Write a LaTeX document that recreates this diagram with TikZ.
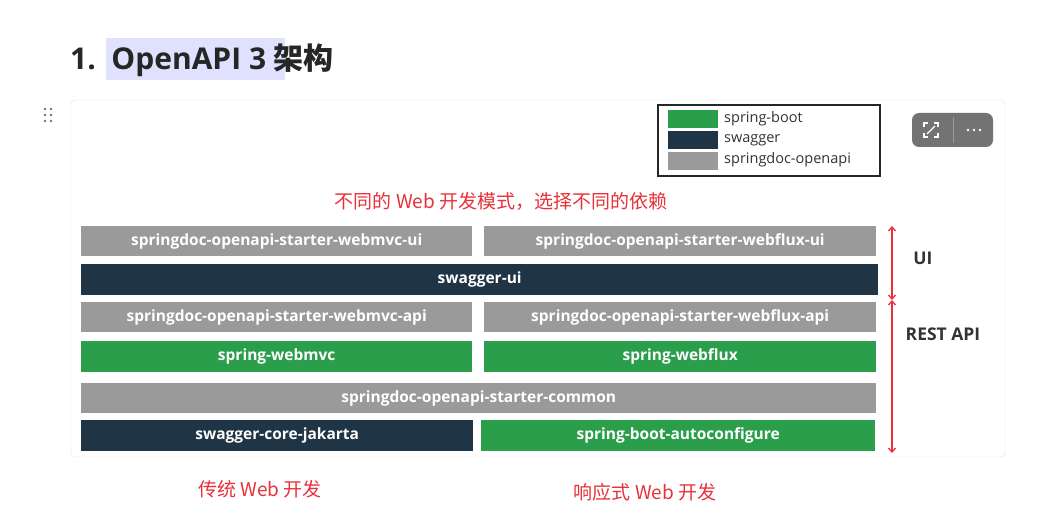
\documentclass[tikz,border=0pt]{standalone}
\usepackage{fontspec}
\setmainfont{Open Sans}
\newfontfamily\cjk{Noto Sans CJK SC}
\newfontfamily\cjkb{Noto Sans CJK SC Bold}
\usetikzlibrary{arrows.meta}
\definecolor{gboot}{HTML}{2A9E4B}
\definecolor{gsw}{HTML}{1F3444}
\definecolor{gdoc}{HTML}{9A9A9A}
\definecolor{rd}{HTML}{E8313A}
\tikzset{
 blk/.style={anchor=north west,inner sep=0pt},
 ln/.style={rd,line width=1.3pt,{Straight Barb[length=4pt,width=7pt]}-{Straight Barb[length=4pt,width=7pt]}},
}
\newcommand{\bx}[7]{\node[blk,fill=#6,minimum width=#3pt,minimum height=#4pt] (#7) at (#1,#2) {}; \node[text=white,font=\bfseries\fontsize{15.5}{17}\selectfont] at (#7.center) {#5};}
\begin{document}
\begin{tikzpicture}[x=1pt,y=-1pt]
\useasboundingbox[fill=white] (0,0) rectangle (1047,521);
% title
\fill[blue!12] (106,38) rectangle (285,80);
\node[anchor=west,inner sep=0pt,font=\bfseries\fontsize{30}{34}\selectfont,text=black!85] (title) at (70,60) {1.\ \ OpenAPI 3 {\cjkb 架构}};
% drag handle
\foreach \i in {0,1,2} \foreach \j in {0,1} \fill[black!55] (45+6*\j,109+6*\i) circle (1.3);
% card
\draw[black!12,rounded corners=4] (71,100) rectangle (1005,457);
% legend
\draw[black!85,line width=1.3pt] (658,105) rectangle (880,176);
\fill[gboot] (668,110) rectangle (718,128);
\fill[gsw] (668,131) rectangle (718,149);
\fill[gdoc] (668,152) rectangle (718,170);
\node[anchor=west,inner sep=0pt,font=\fontsize{14.5}{16}\selectfont,text=black!80] (l1) at (724,119) {spring-boot};
\node[anchor=west,inner sep=0pt,font=\fontsize{14.5}{16}\selectfont,text=black!80] (l2) at (724,140) {swagger};
\node[anchor=west,inner sep=0pt,font=\fontsize{14.5}{16}\selectfont,text=black!80] (l3) at (724,160) {springdoc-openapi};
% toolbar
\fill[black!55,rounded corners=7] (912,113) rectangle (993,147);
\draw[black!40] (953,117) -- (953,143);
\begin{scope}[white,line width=1.2pt]
\draw (924,127) -- (924,123) -- (928,123) (934,123) -- (938,123) -- (938,127) (924,133) -- (924,137) -- (928,137) (934,137) -- (938,137) -- (938,133);
\draw (927,134) -- (935,126);
\end{scope}
\foreach \k in {0,1,2} \fill[white] (968+6*\k,130) circle (1.4);
% red caption
\node[text=rd,font=\cjk\fontsize{19}{22}\selectfont] (cap) at (501,202) {不同的 Web 开发模式，选择不同的依赖};
% blocks
\bx{81}{226}{391}{30}{springdoc-openapi-starter-webmvc-ui}{gdoc}{a1}
\bx{484}{226}{392}{30}{springdoc-openapi-starter-webflux-ui}{gdoc}{a2}
\bx{81}{264}{797}{31}{swagger-ui}{gsw}{b}
\bx{81}{302}{391}{30}{springdoc-openapi-starter-webmvc-api}{gdoc}{c1}
\bx{484}{302}{392}{30}{springdoc-openapi-starter-webflux-api}{gdoc}{c2}
\bx{81}{341}{391}{31}{spring-webmvc}{gboot}{d1}
\bx{484}{341}{392}{31}{spring-webflux}{gboot}{d2}
\bx{81}{383}{795}{30}{springdoc-openapi-starter-common}{gdoc}{e}
\bx{81}{420}{392}{31}{swagger-core-jakarta}{gsw}{f1}
\bx{481}{420}{394}{31}{spring-boot-autoconfigure}{gboot}{f2}
% arrows
\coordinate (u1) at (892,226); \coordinate (u2) at (892,300); \coordinate (u3) at (892,453);
\draw[ln] (u1) -- (u2);
\draw[ln] (u2) -- (u3);
\node[font=\bfseries\fontsize{17.5}{20}\selectfont,text=black!80] (ui) at (923,258) {UI};
\node[font=\bfseries\fontsize{17.5}{20}\selectfont,text=black!80] (rest) at (943,334) {REST API};
% bottom
\node[text=rd,font=\cjk\fontsize{19}{22}\selectfont] (bl) at (260,489) {传统 Web 开发};
\node[text=rd,font=\cjk\fontsize{19}{22}\selectfont] (br) at (645,492) {响应式 Web 开发};
\end{tikzpicture}
\end{document}
